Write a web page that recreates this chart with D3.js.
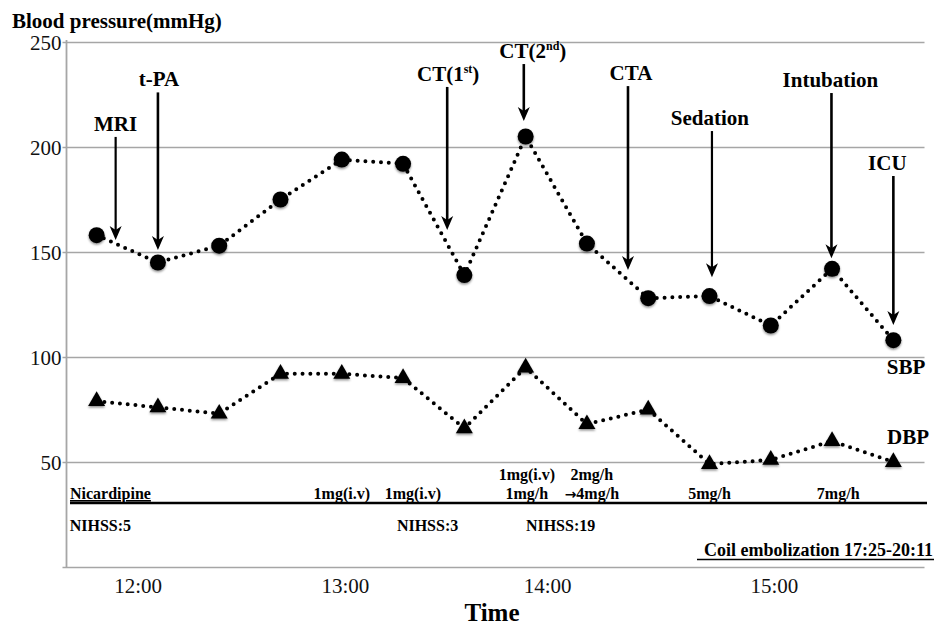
<!DOCTYPE html>
<html>
<head>
<meta charset="utf-8">
<script src="https://cdn.jsdelivr.net/npm/d3@7"></script>
<style>
  body { margin: 0; background: #fff; }
  svg { display: block; }
  svg text { font-family: "Liberation Serif", "Times New Roman", serif; }
  .grid line { stroke: #a6a6a6; stroke-width: 1.6; }
  .grid path { display: none; }
  .xaxis path { display: none; }
  .bold { font-weight: bold; fill: #000; }
</style>
</head>
<body>
<svg id="chart" width="936" height="626"></svg>
<script>
// measurements, one every ~20 min
var sbp = [158, 145, 153, 175, 194, 192, 139, 205, 154, 128, 129, 115, 142, 108]
var dbp = [79, 76, 73, 92, 92, 90, 66, 95, 68, 75, 49, 51, 60, 50]

// clock labels, placed on the measurement index they fall on
var timeLabels = ["12:00", "13:00", "14:00", "15:00"]
var timeAt = [0.67, 4.05, 7.35, 11.05]

// events with arrows (index, arrow top and tip in mmHg)
var eventNames = ["MRI", "t-PA", "CT(1|st|)", "CT(2|nd|)", "CTA", "Sedation", "Intubation", "ICU"]
var eventAt = [0.31, 1.0, 5.72, 6.97, 8.67, 10.04, 11.99, 13.0]
var eventFrom = [204.8, 226, 228.6, 239.5, 229, 207.6, 225.7, 186.2]
var eventTo = [155.7, 151, 160.5, 212.4, 141.4, 138, 147, 115.2]

// nicardipine doses / NIHSS scores
var doseLabels = ["1mg(i.v)", "1mg(i.v)", "1mg(i.v)", "1mg/h", "2mg/h", "\u21924mg/h", "5mg/h", "7mg/h"]
var doseAt = [4.0, 5.16, 7.02, 7.02, 8.08, 8.08, 10.0, 12.1]
var doseRow = [1, 1, 0, 1, 0, 1, 1, 1]
var nihssLabels = ["NIHSS:5", "NIHSS:3", "NIHSS:19"]
var nihssAt = [-0.44, 5.4, 7.57]

/////////////

var svg = d3.select("#chart")
var plotLeft = 66, plotRight = 924, plotTop = 42, plotBottom = 567
var serif = "'Liberation Serif', 'Times New Roman', serif"

var x = d3.scaleLinear().domain([-0.5, 13.5]).range([plotLeft, plotRight])
var y = d3.scaleLinear().domain([0, 250]).range([plotBottom, plotTop])

svg.append("rect").attr("width", 936).attr("height", 626).attr("fill", "#fff")

var defs = svg.append("defs")
defs.append("filter").attr("id", "shadow")
  .attr("x", "-50%").attr("y", "-50%").attr("width", "200%").attr("height", "200%")
  .append("feDropShadow")
  .attr("dx", 0).attr("dy", 1.5).attr("stdDeviation", 1.2)
  .attr("flood-color", "#000").attr("flood-opacity", 0.45)

// gridlines + y labels
var grid = svg.append("g")
  .attr("class", "grid")
  .attr("transform", `translate(${plotLeft + 0.5},0)`)
  .call(d3.axisLeft(y)
    .tickValues([0, 50, 100, 150, 200, 250])
    .tickSize(-(plotRight - plotLeft))
    .tickPadding(5)
    .tickFormat(function(d) { return d === 0 ? "" : d }))
grid.selectAll(".tick line").attr("x1", -4)
grid.selectAll(".tick text")
  .attr("dy", "0.36em")
  .attr("fill", "#111")
  .style("font-family", serif)
  .style("font-size", "21px")

// y axis line
svg.append("line")
  .attr("x1", plotLeft + 0.5).attr("x2", plotLeft + 0.5)
  .attr("y1", plotTop - 2).attr("y2", plotBottom)
  .attr("stroke", "#a6a6a6").attr("stroke-width", 1.8)

// time labels
svg.append("g")
  .attr("class", "xaxis")
  .attr("transform", `translate(0,${plotBottom})`)
  .call(d3.axisBottom(x)
    .tickValues(timeAt)
    .tickSize(0)
    .tickPadding(11)
    .tickFormat(function(d, i) { return timeLabels[i] }))
  .selectAll("text")
  .attr("fill", "#111")
  .style("font-family", serif)
  .style("font-size", "21px")

svg.append("text").attr("class", "bold")
  .attr("x", 492).attr("y", 621)
  .attr("text-anchor", "middle")
  .style("font-size", "25px")
  .text("Time")

svg.append("text").attr("class", "bold")
  .attr("x", 12).attr("y", 28)
  .style("font-size", "21px")
  .text("Blood pressure(mmHg)")

// dotted series
var line = d3.line()
  .x(function(d, i) { return x(i) })
  .y(function(d) { return y(d) })

function dotted(data) {
  svg.append("path")
    .attr("d", line(data))
    .attr("fill", "none")
    .attr("stroke", "#000")
    .attr("stroke-width", 4)
    .attr("stroke-linecap", "round")
    .attr("stroke-dasharray", "0 7.8")
}
dotted(sbp)
dotted(dbp)

svg.append("g").selectAll("circle")
  .data(sbp)
  .join("circle")
  .attr("cx", function(d, i) { return x(i) })
  .attr("cy", function(d) { return y(d) })
  .attr("r", 8)
  .attr("fill", "#000")
  .attr("filter", "url(#shadow)")

svg.append("g").selectAll("path")
  .data(dbp)
  .join("path")
  .attr("d", d3.symbol(d3.symbolTriangle, 125))
  .attr("transform", function(d, i) { return `translate(${x(i)},${y(d)})` })
  .attr("fill", "#000")
  .attr("filter", "url(#shadow)")

// series names
svg.append("text").attr("class", "bold")
  .attr("x", 906).attr("y", 374).attr("text-anchor", "middle")
  .style("font-size", "21px").text("SBP")
svg.append("text").attr("class", "bold")
  .attr("x", 908).attr("y", 444).attr("text-anchor", "middle")
  .style("font-size", "21px").text("DBP")

// event arrows
var labelShift = [0, 1, 1, 9, 3, -2, -1, -6]
eventNames.forEach(function(name, i) {
  var ex = x(eventAt[i]), y0 = y(eventFrom[i]), y1 = y(eventTo[i])
  svg.append("line")
    .attr("x1", ex).attr("x2", ex)
    .attr("y1", y0).attr("y2", y1 - 8)
    .attr("stroke", "#000")
    .attr("stroke-width", name == "Sedation" || name == "MRI" ? 2.2 : 2.6)
  svg.append("path")
    .attr("d", `M${ex},${y1} L${ex - 6},${y1 - 14} L${ex},${y1 - 10} L${ex + 6},${y1 - 14} Z`)
    .attr("fill", "#000")

  var parts = name.split("|")
  var t = svg.append("text").attr("class", "bold")
    .attr("x", ex + labelShift[i]).attr("y", y0 - 6)
    .attr("text-anchor", "middle")
    .style("font-size", "21px")
  t.append("tspan").text(parts[0])
  if (parts.length > 1) {
    t.append("tspan").attr("dy", -8).style("font-size", "12px").text(parts[1])
    t.append("tspan").attr("dy", 8).text(parts[2])
  }
})

// treatment band
svg.append("line")
  .attr("x1", 70).attr("x2", 927)
  .attr("y1", 503).attr("y2", 503)
  .attr("stroke", "#000").attr("stroke-width", 2.6)

svg.append("text").attr("class", "bold")
  .attr("x", 70).attr("y", 499)
  .style("font-size", "16px")
  .style("text-decoration", "underline")
  .text("Nicardipine")

var rowY = [480, 499]
svg.append("g").selectAll("text")
  .data(doseLabels)
  .join("text")
  .attr("class", "bold")
  .attr("x", function(d, i) { return x(doseAt[i]) })
  .attr("y", function(d, i) { return rowY[doseRow[i]] })
  .attr("text-anchor", "middle")
  .style("font-size", "16px")
  .each(function(d) {
    var t = d3.select(this)
    if (d.charAt(0) == "\u2192") {
      // the serif arrow glyph is tiny, borrow DejaVu's
      t.append("tspan").style("font-family", "'DejaVu Sans', sans-serif").style("font-size", "14px").text(d.charAt(0))
      t.append("tspan").text(d.slice(1))
    } else {
      t.text(d)
    }
  })

svg.append("g").selectAll("text")
  .data(nihssLabels)
  .join("text")
  .attr("class", "bold")
  .attr("x", function(d, i) { return x(nihssAt[i]) })
  .attr("y", 531)
  .attr("text-anchor", function(d, i) { return i == 0 ? "start" : "middle" })
  .style("font-size", "16px")
  .text(function(d) { return d })

svg.append("text").attr("class", "bold")
  .attr("x", 933).attr("y", 556)
  .attr("text-anchor", "end")
  .style("font-size", "18px")
  .text("Coil embolization 17:25-20:11")
svg.append("line")
  .attr("x1", 697).attr("x2", 934)
  .attr("y1", 559.5).attr("y2", 559.5)
  .attr("stroke", "#000").attr("stroke-width", 1.6)
</script>
</body>
</html>
